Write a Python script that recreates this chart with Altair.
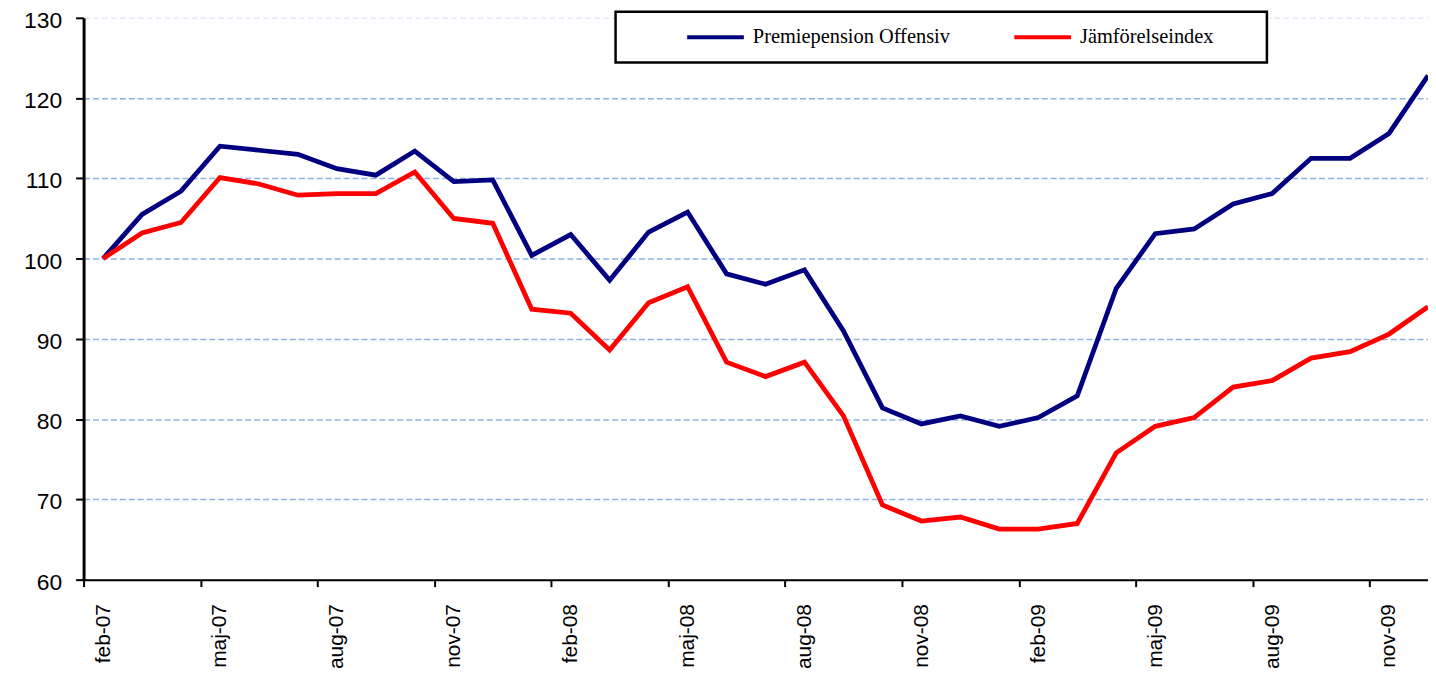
import json
import altair as alt
import pandas as pd

months = ["feb-07", "mar-07", "apr-07", "maj-07", "jun-07", "jul-07", "aug-07", "sep-07",
          "okt-07", "nov-07", "dec-07", "jan-08", "feb-08", "mar-08", "apr-08", "maj-08",
          "jun-08", "jul-08", "aug-08", "sep-08", "okt-08", "nov-08", "dec-08", "jan-09",
          "feb-09", "mar-09", "apr-09", "maj-09", "jun-09", "jul-09", "aug-09", "sep-09",
          "okt-09", "nov-09", "dec-09"]

offensiv = [100, 105.5, 108.4, 114.0, 113.5, 113.0, 111.2, 110.4, 113.4, 109.6, 109.8,
            100.4, 103.0, 97.3, 103.3, 105.8, 98.1, 96.8, 98.6, 91.0, 81.4, 79.4, 80.4,
            79.1, 80.2, 82.9, 96.3, 103.1, 103.7, 106.8, 108.1, 112.5, 112.5, 115.6, 122.8]

jamfor = [100, 103.2, 104.5, 110.1, 109.3, 107.9, 108.1, 108.1, 110.8, 105.0, 104.4,
          93.7, 93.2, 88.6, 94.5, 96.5, 87.1, 85.3, 87.1, 80.4, 69.3, 67.3, 67.8,
          66.3, 66.3, 67.0, 75.8, 79.1, 80.2, 84.0, 84.8, 87.6, 88.4, 90.6, 94.0]

series_names = ["Premiepension Offensiv", "Jämförelseindex"]
series_colors = ["#000080", "#FF0000"]
y_ticks = [60, 70, 80, 90, 100, 110, 120, 130]

rows = []
for s_i, (name, vals) in enumerate(zip(series_names, [offensiv, jamfor])):
    for i, (m, v) in enumerate(zip(months, vals)):
        rows.append({"idx": i, "month": m, "series": name, "value": v, "order": s_i})
df = pd.DataFrame(rows)

PLOT_W = 1352
PLOT_H = 565
x_domain = [-0.5, len(months) - 1]
band_w = PLOT_W / (x_domain[1] - x_domain[0])

tick_vals = [i - 0.5 for i in range(0, len(months), 3)]
label_expr = json.dumps(months) + "[round(datum.value + 0.5)]"

nb = "\u00a0"
SYM_SHIFT = 62

chart = alt.Chart(df).mark_line(strokeWidth=4.8, clip=True).encode(
    x=alt.X(
        "idx:Q",
        scale=alt.Scale(domain=x_domain, nice=False, zero=False),
        axis=alt.Axis(
            values=tick_vals,
            labelExpr=label_expr,
            labelOffset=band_w / 2,
            labelAngle=-90,
            labelFont="Liberation Sans",
            labelFontSize=21,
            labelColor="black",
            labelPadding=17,
            labelFlush=False,
            labelOverlap=False,
            labelBound=False,
            tickSize=7,
            tickWidth=2,
            tickColor="black",
            domainColor="black",
            domainWidth=2,
            grid=False,
            title=None,
        ),
    ),
    y=alt.Y(
        "value:Q",
        scale=alt.Scale(domain=[60, 130], nice=False, zero=False),
        axis=alt.Axis(
            values=y_ticks,
            labelFont="Liberation Sans",
            labelFontSize=23,
            labelColor="black",
            labelPadding=14,
            labelOffset=2.5,
            tickSize=8,
            tickWidth=2,
            tickColor="black",
            domainColor="black",
            domainWidth=3,
            grid=True,
            gridColor="#8DB3E2",
            gridDash=[6, 3],
            gridWidth=1.5,
            gridOpacity={"condition": {"test": "datum.value == 130", "value": 0.25}, "value": 1},
            title=None,
        ),
    ),
    color=alt.Color(
        "series:N",
        scale=alt.Scale(domain=series_names, range=series_colors),
        sort=series_names,
        legend=alt.Legend(
            orient="none",
            legendX=535,
            legendY=-6,
            direction="horizontal",
            title=nb,
            titleOrient="right",
            titleFont="Liberation Serif",
            titleFontSize=20,
            titlePadding=46,
            labelFont="Liberation Serif",
            labelFontSize=20.5,
            labelColor="black",
            labelOffset=7,
            labelLimit=600,
            symbolType="stroke",
            symbolSize=3249,
            symbolStrokeWidth=4,
            symbolOffset=SYM_SHIFT,
            clipHeight=35,
            columnPadding=-1,
            padding=8,
            strokeColor="black",
            fillColor="white",
        ),
    ),
    order=alt.Order("order:Q"),
).properties(
    width=PLOT_W,
    height=PLOT_H,
    autosize=alt.AutoSizeParams(type="none"),
    padding={"left": 76, "top": 8, "right": 0, "bottom": 92},
).configure_view(
    strokeWidth=0
).configure_legend(
    strokeWidth=2.5
)

chart.save("out.html", embed_options={"renderer": "svg", "actions": False})
